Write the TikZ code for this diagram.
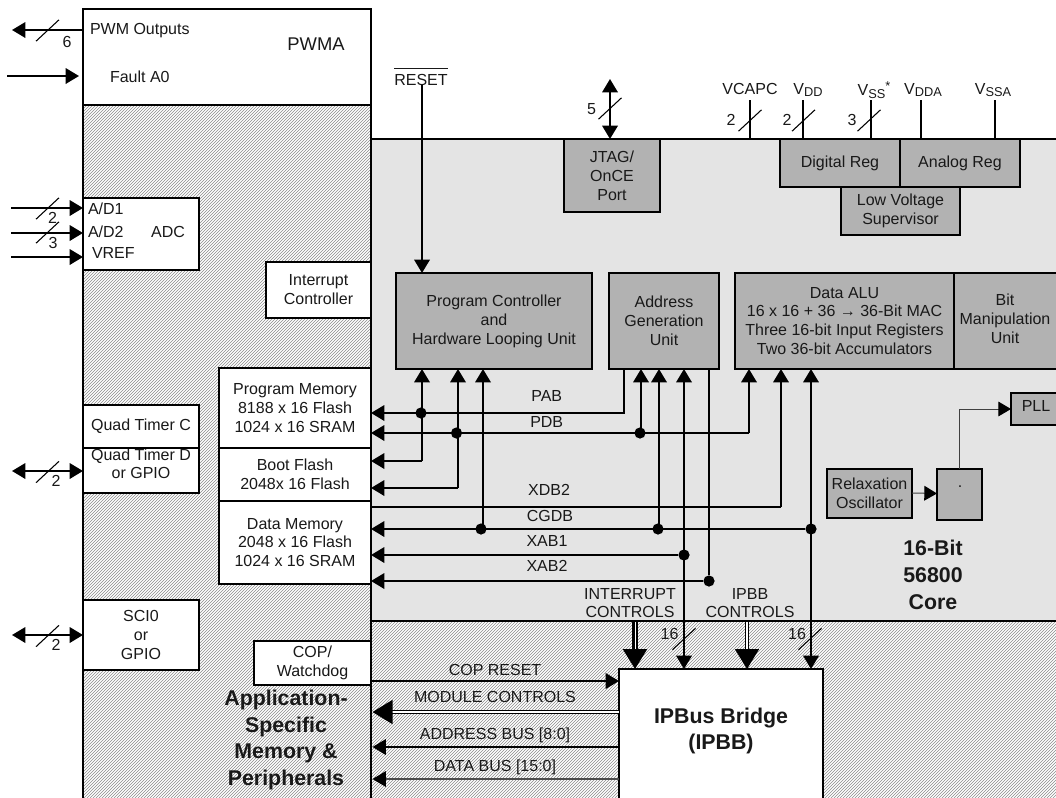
\documentclass[tikz,border=0pt]{standalone}
\usepackage{fontspec}
\setmainfont{Liberation Sans}
\usetikzlibrary{arrows.meta}
\tikzset{
  x=0.75pt,y=-0.75pt,
  lbl/.style={inner sep=0pt,outer sep=0pt,align=center,font=\fontsize{12}{14.2}\selectfont,text=black!90},
  bold/.style={lbl,font=\fontsize{16}{20}\selectfont\bfseries},
  boxw/.style={draw=black,line width=1.5pt,fill=white,inner sep=0pt,outer sep=0pt,lbl},
  boxg/.style={boxw,fill=boxgray},
  bus/.style={draw=black,line width=1.5pt},
  arr/.style={bus,-{Triangle[length=10pt,width=11.6pt]}},
  barr/.style={bus,{Triangle[length=10pt,width=11.6pt]}-{Triangle[length=10pt,width=11.6pt]}},
  bigarr/.style={-{Triangle[length=15pt,width=18pt]}},
  dot/.style={circle,fill=black,inner sep=0pt,outer sep=0pt,minimum size=8.4pt},
  tickline/.style={draw=black,line width=0.8pt},
  thinbus/.style={draw=black!75,line width=0.75pt,-{Triangle[length=9.5pt,width=11pt,black]}},
  hatchline/.style={draw=black!45,line width=0.42pt},
}
\definecolor{boxgray}{gray}{0.70}
\definecolor{coregray}{gray}{0.895}
% box by pixel corners: name, x1, y1, x2, y2, style, text
\newcommand{\pxbox}[7]{\node[#6,minimum width={(#4-#2)*0.75pt},minimum height={(#5-#3)*0.75pt}] (#1) at ({(#2+#4)/2},{(#3+#5)/2}) {#7};}
\newcommand{\bustick}[2]{\draw[tickline] (#1-11.5,#2+10.7) -- (#1+11.5,#2-10.7);}
\newcommand{\sub}[1]{\raisebox{-0.32ex}{\fontsize{9.6}{10}\selectfont #1}}
\begin{document}
\begin{tikzpicture}
\useasboundingbox (0,0) rectangle (1056,797);
% regions
\fill[white] (0,0) rectangle (1056,797);
\fill[coregray] (371,139) rectangle (1060,621);
\begin{scope}
\clip (83,105) rectangle (371,800) (371,621) rectangle (1060,800);
\draw[hatchline] foreach \h in {-720,-717,...,1062} { (\h,801) -- ++(720,-720) };
\end{scope}
\draw[line width=1.5pt] (83,800) -- (83,9) -- (371,9) -- (371,800);
\draw[line width=1.5pt] (371,139) -- (1060,139);
\draw[line width=1.5pt] (371,621) -- (1060,621);
% white boxes
\pxbox{pwma}{83}{9}{371}{105}{boxw}{}
\pxbox{adc}{83}{198}{199}{270}{boxw}{}
\pxbox{intc}{266}{262}{371}{318}{boxw}{Interrupt\\Controller}
\pxbox{qtd}{83}{448}{199}{493}{boxw}{}
\node[lbl] (qtdt) at (141,463.5) {Quad Timer D\\[-0.9pt]or GPIO};
\pxbox{qtc}{83}{405}{199}{448}{boxw}{Quad Timer C}
\pxbox{pm}{219}{368}{371}{448}{boxw}{Program Memory\\8188 x 16 Flash\\1024 x 16 SRAM}
\pxbox{bf}{219}{448}{371}{501}{boxw}{Boot Flash\\2048x 16 Flash}
\pxbox{dm}{219}{501}{371}{584}{boxw}{Data Memory\\2048 x 16 Flash\\1024 x 16 SRAM}
\pxbox{sci}{83}{600}{199}{670}{boxw}{SCI0\\or\\GPIO}
\pxbox{cop}{254}{641}{371}{685}{boxw}{COP/\\Watchdog}
\pxbox{ipbb}{619}{669}{823}{805}{boxw}{}
% grey boxes
\pxbox{jtag}{564}{139}{660}{212}{boxg}{JTAG/\\OnCE\\Port}
\pxbox{dreg}{780}{139}{900}{187}{boxg}{Digital Reg}
\pxbox{areg}{900}{139}{1020}{187}{boxg}{Analog Reg}
\pxbox{lvs}{841}{187}{960}{235}{boxg}{Low Voltage\\Supervisor}
\pxbox{pc}{396}{273}{592}{369}{boxg}{Program Controller\\and\\Hardware Looping Unit}
\pxbox{agu}{609}{273}{719}{369}{boxg}{Address\\Generation\\Unit}
\pxbox{alu}{735}{273}{954}{369}{boxg}{Data ALU\\16 x 16 + 36 → 36-Bit MAC\\Three 16-bit Input Registers\\Two 36-bit Accumulators}
\pxbox{bit}{954}{273}{1060}{369}{boxg}{}
\node[lbl] (bitt) at (1005,319) {Bit\\Manipulation\\Unit};
\pxbox{osc}{827}{469}{912}{518}{boxg}{Relaxation\\Oscillator}
\pxbox{sq}{937}{469}{982}{520}{boxg}{}
\node[lbl] (sqt) at (960,487) {.};
\pxbox{pll}{1011}{393}{1060}{425}{boxg}{}
\node[lbl] (pllt) at (1036,406) {PLL};
% junction dots
\node[dot] (j1) at (421,413) {};
\node[dot] (j2) at (456.5,433) {};
\node[dot] (j3) at (640,433) {};
\node[dot] (j4) at (481,529) {};
\node[dot] (j5) at (658,529) {};
\node[dot] (j6) at (811,529) {};
\node[dot] (j7) at (684,555) {};
\node[dot] (j8) at (709,581) {};
\coordinate (c1) at (624,413);
\coordinate (c2) at (749,433);
\coordinate (c3) at (781,507);
\coordinate (c4) at (422,461);
\coordinate (c5) at (458,488);
\coordinate (c6) at (959,409);
\coordinate (c7) at (483,529);
\coordinate (c8) at (641,433);
\coordinate (c9) at (659,529);
% buses
\draw[arr] (agu.south -| c1) -- (c1) -- (pm.east |- c1);
\draw[arr] (c2) -- (pm.east |- c2);
\draw[arr] (c2) -- (alu.south -| c2);
\draw[bus] (c3) -- (dm.east |- c3);
\draw[arr] (c3) -- (alu.south -| c3);
\draw[arr] (j6) -- (dm.east |- j6);
\draw[arr] (j7) -- (dm.east |- j7);
\draw[arr] (j8) -- (dm.east |- j8);
\draw[arr] (c4) -- (c4 |- pc.south);
\draw[arr] (c4) -- (bf.east |- c4);
\draw[arr] (c5) -- (c5 |- pc.south);
\draw[arr] (c5) -- (bf.east |- c5);
\draw[arr] (c7) -- (c7 |- pc.south);
\draw[arr] (c8) -- (c8 |- agu.south);
\draw[arr] (c9) -- (c9 |- agu.south);
\draw[barr] (j7 |- agu.south) -- (j7 |- ipbb.north);
\draw[bus] (j8 |- agu.south) -- (j8);
\draw[barr] (j6 |- alu.south) -- (j6 |- ipbb.north);
% PLL path
\draw[thinbus] (osc.east) ++(0,-0.5) -- (sq.west |- osc.east);
\draw[thinbus] (c6 |- sq.north) -- (c6) -- (pll.west |- c6);
% top pins
\node[lbl] (resett) at (421,76.5) {$\overline{\mbox{\rule{0pt}{11pt}RESET}}$};
\draw[arr] (c4 |- resett.south) -- (c4 |- pc.north);
\coordinate (jt) at (610,79);
\draw[barr] (jt) -- (jt |- jtag.north);
\node[lbl] (n5) at (591.5,109) {5};
\bustick{610}{108.5}
\coordinate (vc) at (750,100); \coordinate (vd) at (803,100);
\coordinate (vs) at (871,100); \coordinate (vda) at (921,100); \coordinate (vsa) at (995,100);
\draw[bus] (vc) -- (750,140);
\draw[bus] (vd) -- (vd |- dreg.north);
\draw[bus] (vs) -- (vs |- dreg.north);
\draw[bus] (vda) -- (vda |- areg.north);
\draw[bus] (vsa) -- (vsa |- areg.north);
\bustick{750}{120.5}\bustick{803.5}{120.5}\bustick{869}{120.5}
\node[lbl] (n2a) at (731,120) {2};
\node[lbl] (n2b) at (787,120) {2};
\node[lbl] (n3) at (852,120) {3};
\node[lbl] (tvc) at (750,89) {VCAPC};
\node[lbl] (tvd) at (808,90) {V\sub{DD}};
\node[lbl] (tvs) at (874,90) {V\sub{SS}\raisebox{0.6ex}{\fontsize{9.6}{10}\selectfont *}};
\node[lbl] (tvda) at (923,90) {V\sub{DDA}};
\node[lbl] (tvsa) at (993,90) {V\sub{SSA}};
% left pins
\coordinate (p1) at (12,30); \coordinate (p2) at (7,76);
\coordinate (p3) at (11,208); \coordinate (p4) at (11,233); \coordinate (p5) at (11,257);
\coordinate (p6) at (12,471); \coordinate (p7) at (12,635);
\draw[arr] (pwma.west |- p1) -- (p1);
\draw[arr] (p2) -- (79,76);
\draw[arr] (p3) -- (adc.west |- p3);
\draw[arr] (p4) -- (adc.west |- p4);
\draw[arr] (p5) -- (adc.west |- p5);
\draw[barr] (p6) -- (qtd.west |- p6);
\draw[barr] (p7) -- (sci.west |- p7);
\bustick{47.5}{30.5}\bustick{47.5}{208.5}\bustick{47.5}{232.5}\bustick{47.5}{472}\bustick{47.5}{636}
\node[lbl] (n6) at (67,42) {6};
\node[lbl] (n2c) at (52.5,217.5) {2};
\node[lbl] (n3b) at (53,243) {3};
\node[lbl] (n2d) at (56,481) {2};
\node[lbl] (n2e) at (56,645) {2};
% bottom connections
\coordinate (m0) at (371,681);
\draw[arr] (m0) -- (ipbb.west |- m0);
\coordinate (m1) at (619,712); \coordinate (m2) at (619,747); \coordinate (m3) at (619,779);
\draw[draw=black,line width=1.15pt,double=white,double distance=0.9pt,bigarr] (m1) -- (372.5,712);
\draw[arr] (m2) -- (372.5,747);
\draw[draw=black!70,line width=1.1pt,-{Triangle[length=10pt,width=11.6pt,black]}] (m3) -- (372.5,779);
\coordinate (i1) at (635,622); \coordinate (i2) at (747,622);
\draw[draw=black,line width=1.9pt,double=white,double distance=0.45pt,bigarr] (i1) -- (i1 |- ipbb.north);
\draw[draw=black,line width=1.2pt,double=white,double distance=1.3pt,bigarr] (i2) -- (i2 |- ipbb.north);
\bustick{684}{639}\bustick{810}{639}
\node[lbl] (n16a) at (669.5,634) {16};
\node[lbl] (n16b) at (797,634) {16};
% labels
\node[lbl,anchor=west] (t1) at (90,31) {PWM Outputs};
\node[lbl,font=\fontsize{13.8}{16}\selectfont] (t2) at (316,44) {PWMA};
\node[lbl,anchor=west] (t3) at (110,77) {Fault A0};
\node[lbl,anchor=west] (t4) at (88,209) {A/D1};
\node[lbl,anchor=west] (t5) at (88,232) {A/D2};
\node[lbl,anchor=west] (t6) at (92,253) {VREF};
\node[lbl] (t7) at (168,232) {ADC};
\node[lbl] (b1) at (546.7,396) {PAB};
\node[lbl] (b2) at (546.7,422) {PDB};
\node[lbl] (b3) at (549,490) {XDB2};
\node[lbl] (b4) at (550,516) {CGDB};
\node[lbl] (b5) at (547,541) {XAB1};
\node[lbl] (b6) at (547,566) {XAB2};
\node[lbl] (b7) at (630,603) {INTERRUPT\\[-1pt]CONTROLS};
\node[lbl] (b8) at (750,603) {IPBB\\[-1pt]CONTROLS};
\node[lbl] (b9) at (495,670) {COP RESET};
\node[lbl] (b10) at (495,697) {MODULE CONTROLS};
\node[lbl] (b11) at (495,735) {ADDRESS BUS [8:0]};
\node[lbl] (b12) at (495,767) {DATA BUS [15:0]};
\node[bold] (k1) at (933,575) {16-Bit\\56800\\Core};
\node[bold] (k2) at (286,740) {Application-\\Specific\\Memory \&\\Peripherals};
\node[bold] (k3) at (721,731) {IPBus Bridge\\(IPBB)};
\end{tikzpicture}
\end{document}
